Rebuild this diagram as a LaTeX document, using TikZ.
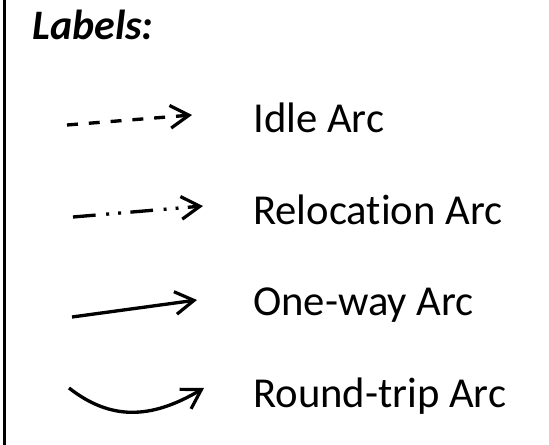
\documentclass[tikz,border=0pt]{standalone}
\usepackage{fontspec}
\setmainfont{Carlito}[Ligatures={NoCommon,NoContextual}]
\usetikzlibrary{arrows.meta}
\begin{document}
\begin{tikzpicture}[x=0.75pt,y=-0.75pt,
  arc/.style={line width=2.5pt,-{Straight Barb[length=14pt,width=17pt,line width=2.4pt]}},
  idlearc/.style={arc,dash pattern=on 8.2pt off 8.2pt},
  relocarc/.style={arc,dash pattern=on 17pt off 8pt on 2.2pt off 6.8pt on 2.2pt off 7pt},
  legtext/.style={anchor=base west,inner sep=0pt,font=\fontsize{32}{38}\selectfont}]
  \useasboundingbox (0,0) rectangle (549,445);
  % left edge of the legend frame
  \draw[line width=2.3pt] (4.5,0) -- (4.5,445);
  % heading
  \node[anchor=base west,inner sep=0pt,font=\fontsize{31.5}{38}\selectfont\bfseries\itshape] (title) at (32,40) {Labels:};
  % legend entries
  \node[legtext] (idle)  at (253,133) {Idle Arc};
  \node[legtext] (reloc) at (253,224) {Relocation Arc};
  \node[legtext] (oneway) at (253,315) {One-way Arc};
  \node[legtext] (round) at (253,407) {Round-trip Arc};
  % sample arcs
  \coordinate (i1) at (67,125);  \coordinate (i2) at (192,115);
  \coordinate (r1) at (73,217);  \coordinate (r2) at (203,206);
  \coordinate (o1) at (72,317);  \coordinate (o2) at (197,300);
  \coordinate (t1) at (69,388);  \coordinate (t2) at (204,388);
  \draw[idlearc] (i1) -- (i2);
  \draw[relocarc] (r1) -- (r2);
  \draw[arc] (o1) -- (o2);
  \draw[arc] (t1) .. controls (110,420) and (150,420) .. (t2);
\end{tikzpicture}
\end{document}
